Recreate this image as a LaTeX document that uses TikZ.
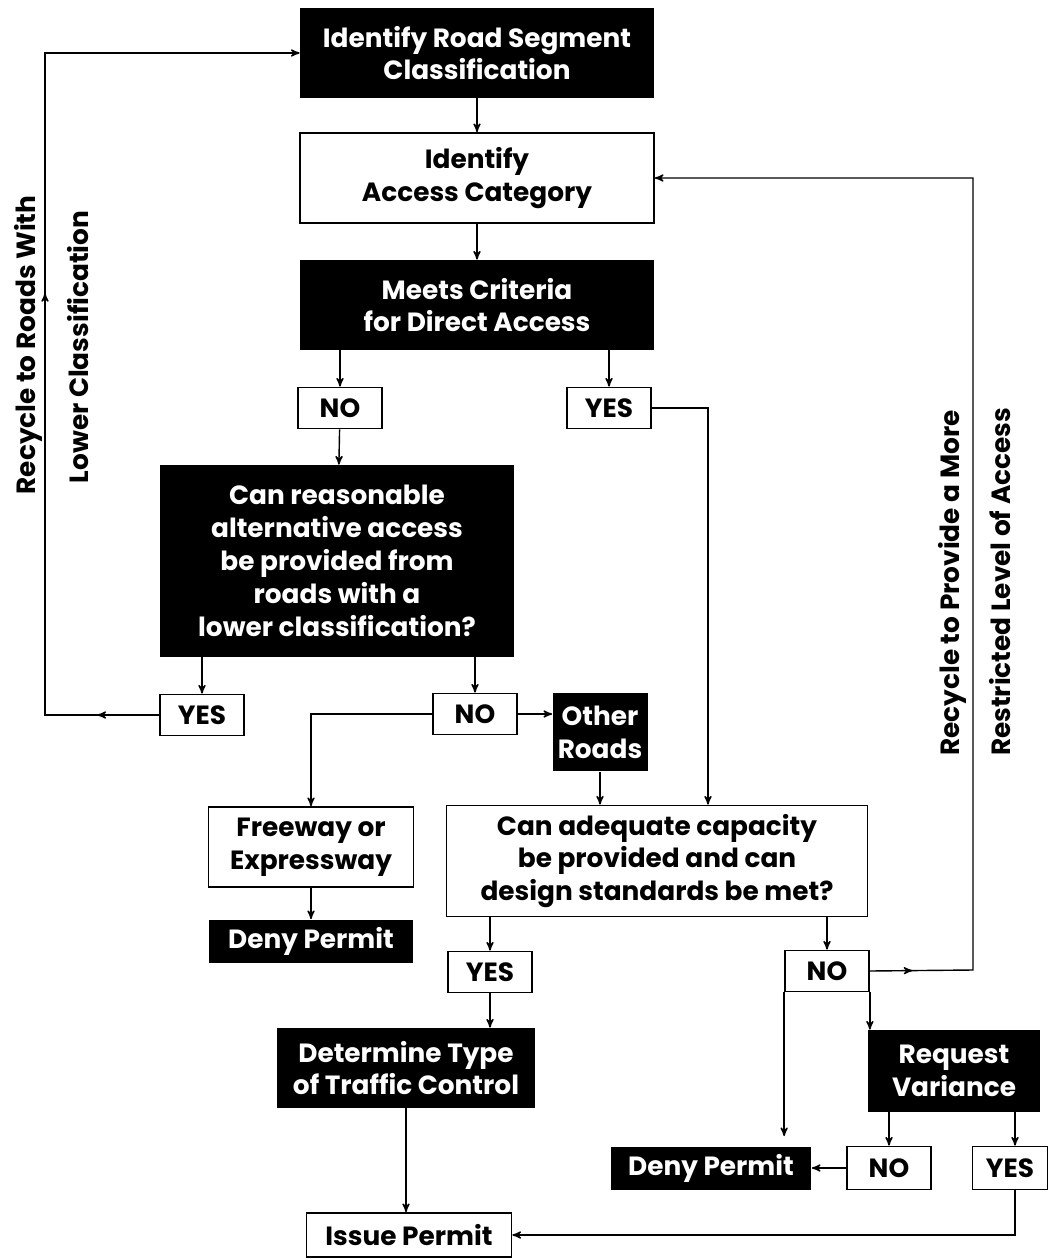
\documentclass[tikz,border=0pt]{standalone}
\usepackage{fontspec}
\setmainfont{Poppins}
\usetikzlibrary{arrows,decorations.markings}

\begin{document}
\begin{tikzpicture}[x=0.02cm,y=-0.02cm]
\tikzstyle{every node}=[inner sep=0pt, align=center, font=\fontsize{15}{18.7}\selectfont\bfseries]
\tikzstyle{blk}=[fill=black, text=white]
\tikzstyle{wht}=[draw, line width=1pt, fill=white]
\tikzstyle{ans}=[draw, line width=1pt, minimum width=1.68cm, minimum height=0.82cm]
\tikzstyle{link}=[line width=0.8pt, -stealth']
\tikzstyle{loopline}=[line width=0.8pt, -stealth', postaction={decorate}]
\useasboundingbox (0,0) rectangle (1050,1260);
% boxes
\draw (477,53) node (road) [blk, minimum width=7.08cm, minimum height=1.8cm] {Identify Road Segment\\Classification};
\draw (477,178) node (access) [wht, minimum width=7.08cm, minimum height=1.8cm] {Identify\\Access Category};
\draw (477,305) node (meets) [blk, minimum width=7.08cm, minimum height=1.8cm] {Meets Criteria\\for Direct Access};
\draw (340,408) node (no1) [ans] {NO};
\draw (609,408) node (yes1) [ans] {YES};
\draw (337,561) node (reason) [blk, minimum width=7.1cm, minimum height=3.84cm] {Can reasonable\\alternative access\\be provided from\\roads with a\\lower classification?};
\draw (202,715) node (yes2) [ans] {YES};
\draw (475,714) node (no2) [ans] {NO};
\draw (600,732) node (other) [blk, minimum width=1.9cm, minimum height=1.58cm] {Other\\Roads};
\draw (311,847) node (free) [wht, minimum width=4.1cm, minimum height=1.6cm] {Freeway or\\Expressway};
\draw (311,941) node (deny1) [blk, minimum width=4.1cm, minimum height=0.86cm] {Deny Permit};
\draw (657,861) node (adequate) [wht, minimum width=8.42cm, minimum height=2.22cm] {Can adequate capacity\\be provided and can\\design standards be met?};
\draw (490,972) node (yes3) [ans] {YES};
\draw (827,971) node (no3) [ans] {NO};
\draw (406,1068) node (determine) [blk, minimum width=5.16cm, minimum height=1.6cm] {Determine Type\\of Traffic Control};
\draw (954,1071) node (variance) [blk, minimum width=3.44cm, minimum height=1.64cm] {Request\\Variance};
\draw (711,1168) node (deny2) [blk, minimum width=4.02cm, minimum height=0.86cm] {Deny Permit};
\draw (889,1168) node (no4) [ans, minimum height=0.86cm] {NO};
\draw (1010,1168) node (yes4) [ans, minimum width=1.5cm, minimum height=0.86cm] {YES};
\draw (409,1235) node (issue) [wht, minimum width=4.1cm, minimum height=0.88cm] {Issue Permit};
% side labels
\draw (28,345) node (recycleA) [rotate=90] {Recycle to Roads With};
\draw (78,347) node (recycleB) [rotate=90] {Lower Classification};
\draw (952,583) node (recycleC) [rotate=90] {Recycle to Provide a More};
\draw (1000,582) node (recycleD) [rotate=90] {Restricted Level of Access};
\coordinate (lcorner) at (45,715);
\coordinate (rcorner) at (973,970);
% links
\draw[link] (road) -- (access);
\draw[link] (access) -- (meets);
\draw[link] (meets.south -| no1) -- (no1);
\draw[link] (meets.south -| yes1) -- (yes1);
\draw[link] (no1) -- (reason);
\draw[link] (reason.south -| yes2) -- (yes2);
\draw[link] (reason.south -| no2) -- (no2);
\draw[link] (no2.east) -- (no2.east -| other.west);
\draw[link] (no2.west) -| (free);
\draw[link] (free) -- (deny1);
\draw[link] (other.south) -- (other.south |- adequate.north);
\draw[link] (yes1.east) -| ([xshift=1.02cm]adequate.north);
\draw[link] (adequate.south -| yes3) -- (yes3);
\draw[link] (adequate.south -| no3) -- (no3);
\draw[link] (yes3) -- (determine.north -| yes3);
\draw[link] (determine.south) -- (determine.south |- issue.north);
\draw[link] (no3.south east) -- (no3.south east |- variance.north);
\draw[link] (no3.south west) -- ([yshift=0.2cm]no3.south west |- deny2.north);
\draw[link] (variance.south -| no4) -- (no4);
\draw[link] ([xshift=0.1cm]variance.south -| yes4) -- ([xshift=0.1cm]yes4.north);
\draw[link] (no4) -- (deny2);
\draw[link] ([xshift=0.1cm]yes4.south) |- (issue.east);
% recycle loops
\draw[loopline, decoration={markings, mark=at position 0.06 with {\arrow{stealth'}}, mark=at position 0.52 with {\arrow{stealth'}}}] (yes2.west) -- (lcorner) |- (road.west);
\draw[loopline, decoration={markings, mark=at position 0.035 with {\arrow{stealth'}}}] (no3.east) -- (rcorner) |- (access.east);
\end{tikzpicture}
\end{document}
